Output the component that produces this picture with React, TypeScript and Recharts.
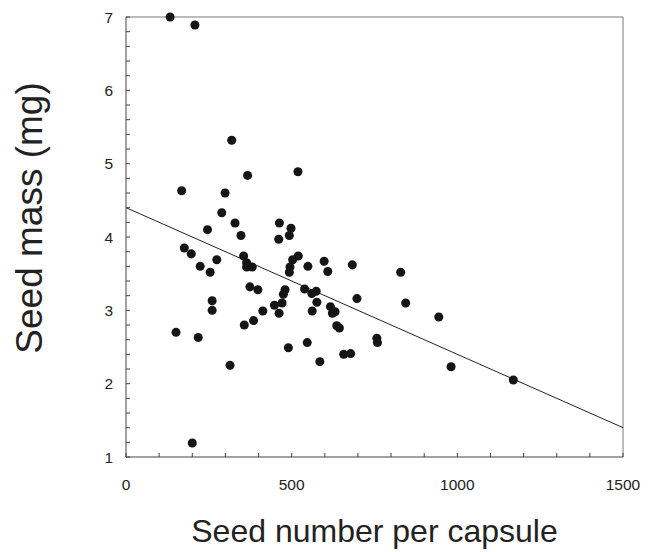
import { ScatterChart, Scatter, XAxis, YAxis, ReferenceLine, Label } from "recharts";

// seed number per capsule (x) and seed mass in mg (y)
const seedNumber = [
  133, 208, 319, 367, 519, 168, 299, 289, 329, 246, 347, 463, 498, 461, 493,
  176, 197, 274, 224, 254, 355, 364, 364, 381, 520, 503, 495, 493, 549, 598,
  609, 683, 697, 374, 398, 480, 475, 471, 448, 462, 413, 539, 561, 574, 576,
  562, 617, 623, 631, 636, 644, 260, 260, 385, 357, 151, 218, 490, 547, 757,
  759, 314, 585, 657, 678, 200, 829, 844, 944, 981, 1169,
];
const seedMass = [
  7.0, 6.89, 5.32, 4.84, 4.89, 4.63, 4.6, 4.33, 4.19, 4.1, 4.02, 4.19, 4.12, 3.97, 4.02,
  3.85, 3.77, 3.69, 3.6, 3.52, 3.74, 3.65, 3.59, 3.59, 3.74, 3.69, 3.59, 3.52, 3.6, 3.67,
  3.53, 3.62, 3.16, 3.32, 3.28, 3.28, 3.22, 3.1, 3.07, 2.96, 2.99, 3.29, 3.23, 3.26, 3.11,
  2.99, 3.05, 2.96, 2.98, 2.79, 2.76, 3.13, 3.0, 2.86, 2.8, 2.7, 2.63, 2.49, 2.56, 2.62,
  2.56, 2.25, 2.3, 2.4, 2.41, 1.19, 3.52, 3.1, 2.91, 2.23, 2.05,
];

// fitted regression line end points
const fitX = [0, 1500];
const fitY = [4.4, 1.4];

const xTicks = [0, 100, 200, 300, 400, 500, 600, 700, 800, 900, 1000, 1100, 1200, 1300, 1400, 1500];
const xTickLabels = [0, 500, 1000, 1500];
const yTicks = [
  1, 1.2, 1.4, 1.6, 1.8, 2, 2.2, 2.4, 2.6, 2.8, 3, 3.2, 3.4, 3.6, 3.8, 4,
  4.2, 4.4, 4.6, 4.8, 5, 5.2, 5.4, 5.6, 5.8, 6, 6.2, 6.4, 6.6, 6.8, 7,
];
const yTickLabels = [1, 2, 3, 4, 5, 6, 7];

const points = seedNumber.map((x, i) => ({ x, y: seedMass[i] }));
const fit = fitX.map((x, i) => ({ x, y: fitY[i] }));

const font = "'Liberation Sans', Arial, Helvetica, sans-serif";
const X_GAP = 22;
const Y_GAP = 13;
const TICK = 4;

// minor ticks point inward, labels only on the major values
const XTick = (props: any) => {
  const { x, y, payload } = props;
  const axisY = y - X_GAP;
  const v = payload.value;
  return (
    <g>
      <line x1={x} x2={x} y1={axisY} y2={axisY - TICK} stroke="#444" />
      {xTickLabels.includes(v) && (
        <text x={x} y={y} dy="0.71em" textAnchor="middle" fontSize={15.5} fill="#222" fontFamily={font}>
          {v}
        </text>
      )}
    </g>
  );
};

const YTick = (props: any) => {
  const { x, y, payload } = props;
  const axisX = x + Y_GAP;
  const v = payload.value;
  return (
    <g>
      <line x1={axisX} x2={axisX + TICK} y1={y} y2={y} stroke="#444" />
      {yTickLabels.includes(v) && (
        <text x={x} y={y} dy="0.355em" textAnchor="end" fontSize={15.5} fill="#222" fontFamily={font}>
          {v}
        </text>
      )}
    </g>
  );
};

const YTitle = (props: any) => {
  const { viewBox } = props;
  const cx = viewBox.x + 42;
  const cy = viewBox.y + viewBox.height / 2 - 19;
  return (
    <text
      x={cx}
      y={cy}
      transform={`rotate(-90, ${cx}, ${cy})`}
      textAnchor="middle"
      fontSize={37}
      fontFamily={font}
      fill="#222"
    >
      Seed mass (mg)
    </text>
  );
};

export default function App() {
  return (
    <div style={{ position: "absolute", left: 0, top: 0, background: "#fff" }}>
      <ScatterChart width={652} height={552} margin={{ top: 17, right: 29, bottom: 0, left: 0 }}>
        <XAxis
          type="number"
          dataKey="x"
          domain={[0, 1500]}
          ticks={xTicks}
          interval={0}
          tickLine={false}
          tickSize={0}
          tickMargin={X_GAP}
          tick={<XTick />}
          stroke="#444"
          height={95}
        >
          <Label
            value="Seed number per capsule"
            position="insideBottom"
            offset={10}
            style={{ fontSize: 32, fill: "#222", fontFamily: font }}
          />
        </XAxis>
        <YAxis
          type="number"
          dataKey="y"
          domain={[1, 7]}
          ticks={yTicks}
          interval={0}
          tickLine={false}
          tickSize={0}
          tickMargin={Y_GAP}
          tick={<YTick />}
          stroke="#444"
          width={126}
        >
          <Label content={<YTitle />} />
        </YAxis>
        <ReferenceLine y={7} stroke="#777" />
        <ReferenceLine x={1500} stroke="#777" />
        <Scatter
          data={fit}
          line={{ stroke: "#222", strokeWidth: 1 }}
          shape={() => <g />}
          isAnimationActive={false}
        />
        <Scatter data={points} fill="#151515" isAnimationActive={false} />
      </ScatterChart>
    </div>
  );
}
